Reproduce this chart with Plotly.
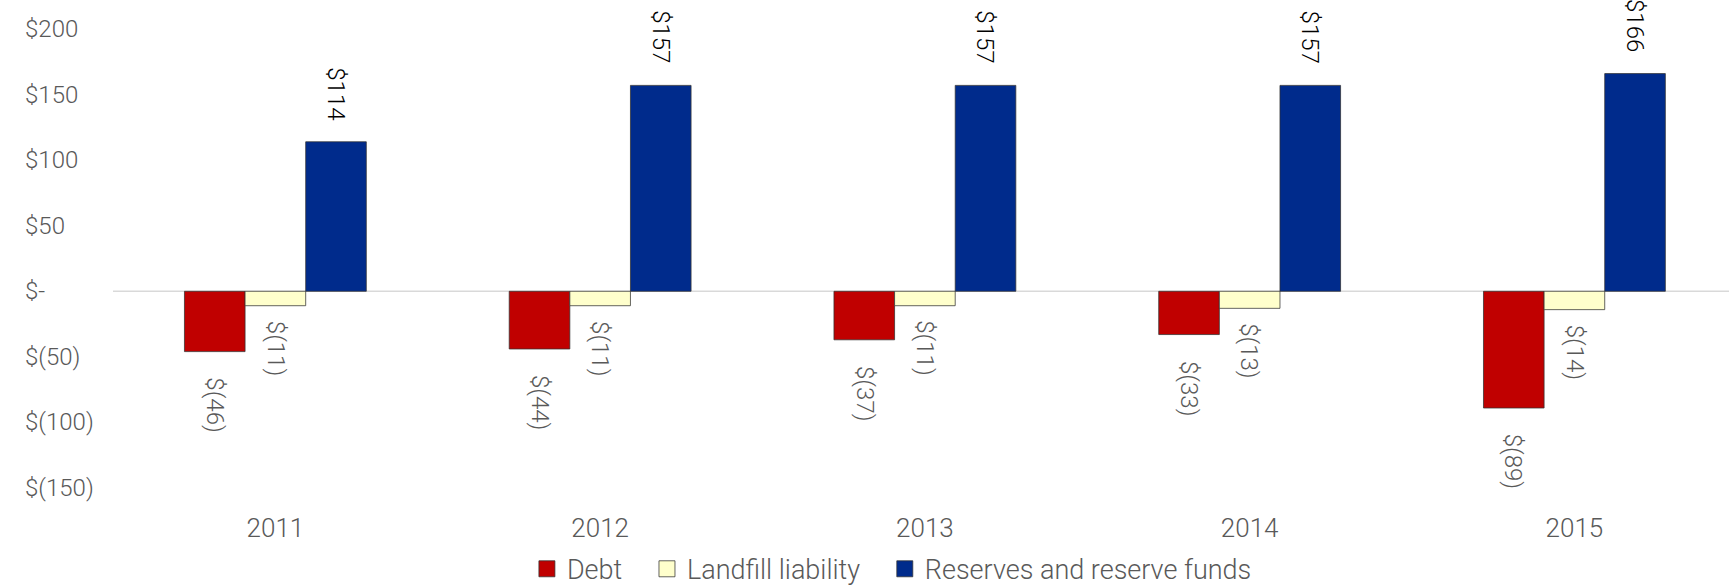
import plotly.graph_objects as go

years = ["2011", "2012", "2013", "2014", "2015"]
debt = [-46, -44, -37, -33, -89]
landfill = [-11, -11, -11, -13, -14]
reserves = [114, 157, 157, 157, 166]

y_ticks = [200, 150, 100, 50, 0, -50, -100, -150]
y_tick_text = ["$200", "$150", "$100", "$50", "$-", "$(50)", "$(100)", "$(150)"]

FONT = "Roboto"
WEIGHT = 300
GRAY = "#595959"
EDGE = "rgba(50,50,50,0.75)"
PAD = "\u00a0" * 3


def money(v):
    return f"${v}" if v >= 0 else f"$({-v})"


# name, values, fill colour, label colour, label offset from the bar end (px)
series = [
    ("Debt", debt, "#C00000", GRAY, -24),
    ("Landfill liability", landfill, "#FFFFCC", GRAY, -13),
    ("Reserves and reserve funds", reserves, "#002B8C", "#000000", 20),
]

fig = go.Figure()
for i, (name, vals, color, tcolor, shift) in enumerate(series):
    fig.add_trace(go.Bar(
        name=name, x=years, y=vals, showlegend=False,
        offsetgroup=str(i),
        marker=dict(color=color, line=dict(color=EDGE, width=1)),
    ))
    # legend entry with a larger square swatch
    fig.add_trace(go.Scatter(
        name=name + (PAD if i < len(series) - 1 else ""),
        x=[None], y=[None], mode="markers",
        marker=dict(symbol="square", size=16, color=color,
                    line=dict(color=EDGE, width=1)),
    ))

# rotated value labels at the end of each bar
n = len(series)
width = 1 - 0.44
for i, (name, vals, color, tcolor, shift) in enumerate(series):
    for k, v in enumerate(vals):
        xpos = k - width / 2 + width / n * (i + 0.5)
        fig.add_annotation(
            x=xpos, y=v, xref="x", yref="y",
            text=money(v), showarrow=False, textangle=90,
            xanchor="center", yanchor="bottom" if v >= 0 else "top",
            yshift=shift,
            font=dict(family=FONT, size=24, color=tcolor, weight=WEIGHT),
        )

# y-axis labels, left aligned in the margin
for v, t in zip(y_ticks, y_tick_text):
    fig.add_annotation(
        x=-0.0557, xref="paper", y=v, yref="y",
        text=t, showarrow=False, xanchor="left", yanchor="middle",
        font=dict(family=FONT, size=24, color=GRAY, weight=WEIGHT),
    )

fig.add_shape(type="line", xref="paper", yref="y", x0=0, x1=1, y0=0, y1=0,
              line=dict(color="#D9D9D9", width=1.5), layer="below")

fig.update_layout(
    width=1729, height=587,
    margin=dict(l=113, r=0, t=29, b=99, autoexpand=False),
    paper_bgcolor="white", plot_bgcolor="white",
    barmode="group", bargap=0.44, bargroupgap=0,
    font=dict(family=FONT, color=GRAY, weight=WEIGHT),
    xaxis=dict(
        type="category", range=[-0.5, 4.476], showgrid=False, showline=False,
        ticks="", tickfont=dict(family=FONT, size=26, color=GRAY, weight=WEIGHT),
        ticklabelstandoff=22, automargin=False,
    ),
    yaxis=dict(
        range=[-150, 200], showgrid=False, zeroline=False, showline=False,
        showticklabels=False, ticks="", automargin=False,
    ),
    legend=dict(
        orientation="h", x=0.482, xanchor="center", y=-0.177, yanchor="middle",
        font=dict(family=FONT, size=27, color=GRAY, weight=WEIGHT),
        itemwidth=30, traceorder="normal",
    ),
)

fig.write_html("out.html")
